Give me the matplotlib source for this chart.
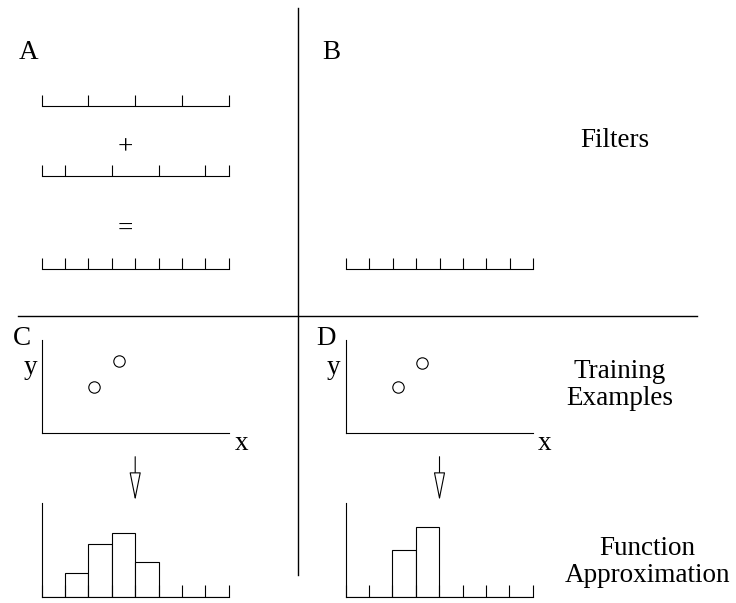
import numpy as np
import matplotlib.pyplot as plt
from matplotlib.lines import Line2D
from matplotlib.patches import FancyArrowPatch, ArrowStyle

plt.rcParams['font.family'] = ['Liberation Serif', 'DejaVu Serif']

# filter tick positions on a 0..8 grid
coarseTicks = [0, 2, 4, 6, 8]
shiftedTicks = [0, 1, 3, 5, 7, 8]
fineTicks = [0, 1, 2, 3, 4, 5, 6, 7, 8]

# training examples (x on 0..8, y on 0..1)
pointsCx = [2.25, 3.32]
pointsCy = [0.50, 0.77]
pointsDx = [2.25, 3.28]
pointsDy = [0.50, 0.755]

# function approximation, one value per fine bin
bins = [0, 1, 2, 3, 4, 5, 6, 7]
histC = [0, 0.25, 0.56, 0.685, 0.37, 0, 0, 0]
histD = [0, 0, 0.50, 0.745, 0, 0, 0, 0]

W, H = 736, 603
fontSize = 19.5
lineWidth = 0.8

fig = plt.figure(figsize=(W / 100, H / 100), dpi=100)


def fx(x):
    return x / W


def fy(y):
    return 1 - y / H


def pixelAxes(left, top, right, bottom):
    ax = fig.add_axes([fx(left), fy(bottom), (right - left) / W, (bottom - top) / H])
    ax.patch.set_visible(False)
    ax.spines['top'].set_visible(False)
    ax.spines['right'].set_visible(False)
    for s in ax.spines.values():
        s.set_linewidth(lineWidth)
    ax.set_xlim(0, 8)
    ax.set_ylim(0, 1)
    ax.set_yticks([])
    return ax


def ruler(left, right, base, ticks):
    ax = pixelAxes(left, base - 14, right, base)
    ax.spines['left'].set_visible(False)
    ax.set_xticks(ticks)
    ax.tick_params(axis='x', direction='in', length=8, width=lineWidth, labelbottom=False)


def scatterPanel(left, xs, ys):
    ax = pixelAxes(left, 340, left + 187, 433)
    ax.set_xticks([])
    ax.plot(xs, ys, 'o', mfc='white', mec='black', ms=8.2, mew=lineWidth, clip_on=False)


def histPanel(left, heights):
    ax = pixelAxes(left, 503, left + 187, 596.7)
    ax.bar(bins, heights, width=1, align='edge', color='white', edgecolor='black', lw=lineWidth)
    ax.set_xticks(fineTicks)
    ax.tick_params(axis='x', direction='in', length=8.4, width=lineWidth, labelbottom=False)


def label(x, y, s, ha='left'):
    fig.text(fx(x), fy(y), s, ha=ha, va='baseline', fontsize=fontSize)


def downArrow(x, y0, y1):
    style = ArrowStyle('-|>', head_length=18, head_width=3.6)
    arrow = FancyArrowPatch((fx(x), fy(y0)), (fx(x), fy(y1)), transform=fig.transFigure,
                            arrowstyle=style, mutation_scale=1, shrinkA=0, shrinkB=0,
                            fc='white', ec='black', lw=lineWidth)
    fig.add_artist(arrow)


# panel A: two coarse filters add up to a fine one
ruler(41.7, 228.7, 106, coarseTicks)
ruler(41.7, 228.7, 176, shiftedTicks)
ruler(41.7, 228.7, 269, fineTicks)
label(19, 59.3, 'A')
label(125, 154, '+', ha='center')
label(125, 236, '=', ha='center')

# panel B: a single fine filter
ruler(345.7, 533.3, 269, fineTicks)
label(322.5, 59.3, 'B')
label(580, 147, 'Filters')

# panels C and D: training examples and the approximation they give
scatterPanel(41.7, pointsCx, pointsCy)
scatterPanel(345.7, pointsDx, pointsDy)
histPanel(41.7, histC)
histPanel(345.7, histD)
downArrow(135.2, 456.7, 500.7)
downArrow(439.5, 456.7, 500.7)

label(12.7, 345, 'C')
label(316.7, 345, 'D')
label(30, 374, 'y', ha='center')
label(333, 374, 'y', ha='center')
label(241.7, 450, 'x', ha='center')
label(545, 450, 'x', ha='center')
label(620, 378, 'Training', ha='center')
label(620, 405, 'Examples', ha='center')
label(647, 555, 'Function', ha='center')
label(647, 582, 'Approximation', ha='center')

# dividers between the panels
fig.add_artist(Line2D([fx(298), fx(298)], [fy(8), fy(575)], transform=fig.transFigure,
                      color='black', lw=1.0))
fig.add_artist(Line2D([fx(18), fx(697)], [fy(316), fy(316)], transform=fig.transFigure,
                      color='black', lw=1.0))

fig.savefig('out.png', dpi=100)
